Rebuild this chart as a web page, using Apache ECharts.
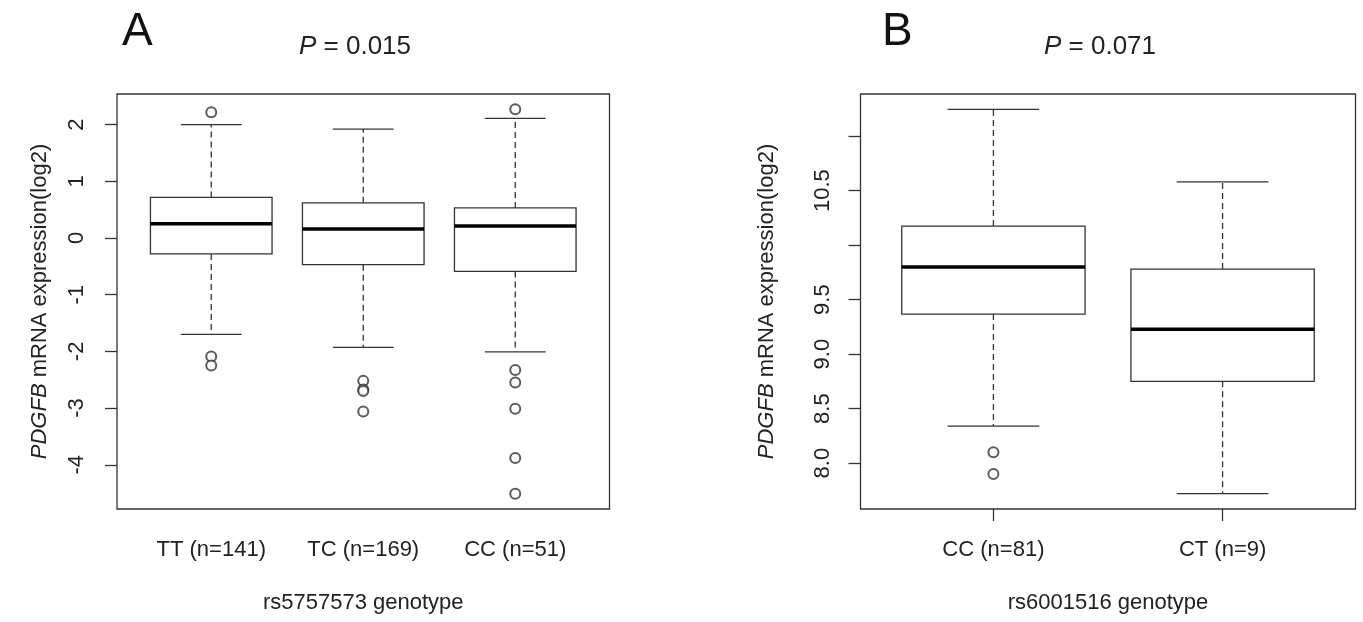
<!DOCTYPE html>
<html>
<head>
<meta charset="utf-8">
<script src="https://cdn.jsdelivr.net/npm/echarts@6/dist/echarts.min.js"></script>
<style>
  html, body { margin: 0; padding: 0; background: #fff; }
  #chart { width: 1363px; height: 622px; }
</style>
</head>
<body>
<div id="chart"></div>
<script>
// panel A: rs5757573
const catsA = ['TT (n=141)', 'TC (n=169)', 'CC (n=51)'];
const lowA = [-1.70, -1.93, -2.01];
const q1A = [-0.28, -0.47, -0.59];
const medA = [0.25, 0.16, 0.21];
const q3A = [0.715, 0.62, 0.53];
const highA = [2.0, 1.92, 2.11];
const outA = [[2.22, -2.09, -2.25], [-2.52, -2.67, -2.70, -3.06], [2.27, -2.33, -2.55, -3.01, -3.88, -4.51]];
const ticksA = [-4, -3, -2, -1, 0, 1, 2];

// panel B: rs6001516
const catsB = ['CC (n=81)', 'CT (n=9)'];
const lowB = [8.34, 7.72];
const q1B = [9.367, 8.75];
const medB = [9.80, 9.227];
const q3B = [10.174, 9.78];
const highB = [11.245, 10.58];
const outB = [[8.10, 7.90], []];
const ticksB = [8, 8.5, 9, 9.5, 10, 10.5, 11];
const labelsB = [8, 8.5, 9, 9.5, 10.5];

const font = 'Liberation Sans, Arial, sans-serif';
const ink = '#222';
const lineCol = '#333';

function boxData(low, q1, med, q3, high) {
  return low.map((v, i) => [i + 1, v, q1[i], med[i], q3[i], high[i]]);
}
function outlierData(out) {
  const res = [];
  out.forEach((arr, i) => arr.forEach(v => res.push([i + 1, v])));
  return res;
}

// draws one R style box: dashed whiskers, caps, box and thick median
function renderBox(params, api) {
  const x = api.value(0);
  const pLow = api.coord([x, api.value(1)]);
  const pQ1 = api.coord([x, api.value(2)]);
  const pMed = api.coord([x, api.value(3)]);
  const pQ3 = api.coord([x, api.value(4)]);
  const pHigh = api.coord([x, api.value(5)]);
  const halfBox = api.size([0.8, 0])[0] / 2;
  const halfCap = api.size([0.4, 0])[0] / 2;
  const cx = pMed[0];
  const solid = { stroke: lineCol, lineWidth: 1.3 };
  const dashed = { stroke: lineCol, lineWidth: 1.3, lineDash: [6, 4] };
  return {
    type: 'group',
    children: [
      { type: 'line', shape: { x1: cx, y1: pQ3[1], x2: cx, y2: pHigh[1] }, style: dashed },
      { type: 'line', shape: { x1: cx, y1: pQ1[1], x2: cx, y2: pLow[1] }, style: dashed },
      { type: 'line', shape: { x1: cx - halfCap, y1: pHigh[1], x2: cx + halfCap, y2: pHigh[1] }, style: solid },
      { type: 'line', shape: { x1: cx - halfCap, y1: pLow[1], x2: cx + halfCap, y2: pLow[1] }, style: solid },
      { type: 'rect', shape: { x: cx - halfBox, y: pQ3[1], width: halfBox * 2, height: pQ1[1] - pQ3[1] },
        style: { fill: '#fff', stroke: lineCol, lineWidth: 1.3 } },
      { type: 'line', shape: { x1: cx - halfBox, y1: pMed[1], x2: cx + halfBox, y2: pMed[1] },
        style: { stroke: '#000', lineWidth: 3.5 } }
    ]
  };
}

const labelStyle = { fontFamily: font, fontSize: 22, color: ink };
const yName = '{i|PDGFB} mRNA expression(log2)';
const nameStyle = {
  fontFamily: font, fontSize: 22, color: ink,
  rich: { i: { fontFamily: font, fontSize: 22, color: ink, fontStyle: 'italic' } }
};
const tickStyle = { color: lineCol, width: 1.3 };

const chart = echarts.init(document.getElementById('chart'));
chart.setOption({
  backgroundColor: '#fff',
  animation: false,
  title: [
    { text: 'A', left: 122, top: 9, padding: 0,
      textStyle: { fontFamily: font, fontSize: 46, fontWeight: 'normal', color: '#111' } },
    { text: '{i|P} = 0.015', left: 355, top: 34, padding: 0, textAlign: 'center',
      textStyle: { fontFamily: font, fontSize: 26, fontWeight: 'normal', color: ink,
        rich: { i: { fontFamily: font, fontSize: 26, fontStyle: 'italic', color: ink } } } },
    { text: 'B', left: 882, top: 9, padding: 0,
      textStyle: { fontFamily: font, fontSize: 46, fontWeight: 'normal', color: '#111' } },
    { text: '{i|P} = 0.071', left: 1100, top: 34, padding: 0, textAlign: 'center',
      textStyle: { fontFamily: font, fontSize: 26, fontWeight: 'normal', color: ink,
        rich: { i: { fontFamily: font, fontSize: 26, fontStyle: 'italic', color: ink } } } }
  ],
  grid: [
    { left: 117, top: 94, width: 492.5, height: 415, show: true, borderColor: lineCol, borderWidth: 1.3,
      backgroundColor: 'transparent', outerBoundsMode: 'none' },
    { left: 860.5, top: 94, width: 495, height: 415, show: true, borderColor: lineCol, borderWidth: 1.3,
      backgroundColor: 'transparent', outerBoundsMode: 'none' }
  ],
  xAxis: [
    { type: 'value', gridIndex: 0, min: 0.38, max: 3.62,
      axisLine: { show: false }, splitLine: { show: false },
      axisTick: { show: true, length: 12, customValues: [1, 2, 3], lineStyle: tickStyle },
      axisLabel: { customValues: [1, 2, 3], margin: 30, formatter: v => catsA[Math.round(v) - 1], ...labelStyle },
      name: 'rs5757573 genotype', nameLocation: 'middle', nameGap: 83, nameTextStyle: labelStyle },
    { type: 'value', gridIndex: 1, min: 0.42, max: 2.58,
      axisLine: { show: false }, splitLine: { show: false },
      axisTick: { show: true, length: 12, customValues: [1, 2], lineStyle: tickStyle },
      axisLabel: { customValues: [1, 2], margin: 30, formatter: v => catsB[Math.round(v) - 1], ...labelStyle },
      name: 'rs6001516 genotype', nameLocation: 'middle', nameGap: 83, nameTextStyle: labelStyle }
  ],
  yAxis: [
    { type: 'value', gridIndex: 0, min: -4.78, max: 2.54,
      axisLine: { show: false }, splitLine: { show: false },
      axisTick: { show: true, length: 12, customValues: ticksA, lineStyle: tickStyle },
      axisLabel: { customValues: ticksA, rotate: 90, margin: 29, formatter: v => String(v), ...labelStyle },
      name: yName, nameLocation: 'middle', nameGap: 66, nameTextStyle: nameStyle },
    { type: 'value', gridIndex: 1, min: 7.579, max: 11.386,
      axisLine: { show: false }, splitLine: { show: false },
      axisTick: { show: true, length: 12, customValues: ticksB, lineStyle: tickStyle },
      axisLabel: { customValues: labelsB, rotate: 90, margin: 27, formatter: v => v.toFixed(1), ...labelStyle },
      name: yName, nameLocation: 'middle', nameGap: 83, nameTextStyle: nameStyle }
  ],
  series: [
    { type: 'custom', xAxisIndex: 0, yAxisIndex: 0, renderItem: renderBox,
      encode: { x: 0, y: [1, 2, 3, 4, 5] }, data: boxData(lowA, q1A, medA, q3A, highA) },
    { type: 'scatter', xAxisIndex: 0, yAxisIndex: 0, symbol: 'emptyCircle', symbolSize: 10,
      itemStyle: { color: lineCol, borderColor: lineCol, borderWidth: 1.3 }, data: outlierData(outA) },
    { type: 'custom', xAxisIndex: 1, yAxisIndex: 1, renderItem: renderBox,
      encode: { x: 0, y: [1, 2, 3, 4, 5] }, data: boxData(lowB, q1B, medB, q3B, highB) },
    { type: 'scatter', xAxisIndex: 1, yAxisIndex: 1, symbol: 'emptyCircle', symbolSize: 10,
      itemStyle: { color: lineCol, borderColor: lineCol, borderWidth: 1.3 }, data: outlierData(outB) }
  ]
});
</script>
</body>
</html>
